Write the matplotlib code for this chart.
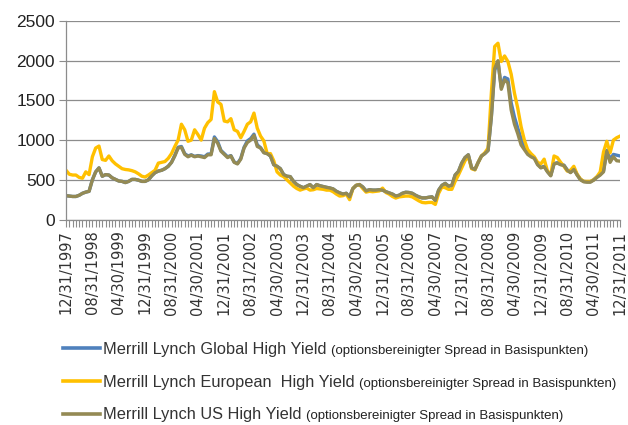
import numpy as np
import pandas as pd
import matplotlib
matplotlib.use('Agg')
import matplotlib.pyplot as plt
from matplotlib.font_manager import FontProperties

dates = pd.date_range('1997-12-31', periods=169, freq='ME')
date_labels = [d.strftime('%m/%d/%Y') for d in dates]

us_hy = [300, 295, 290, 290, 305, 330, 345, 355, 500, 600, 650, 545, 565, 560, 525, 505, 485, 480, 465, 480,
         505, 505, 495, 480, 480, 500, 550, 590, 610, 620, 640, 670, 720, 800, 900, 910, 820, 790, 810, 790,
         800, 790, 780, 815, 815, 1020, 960, 860, 820, 780, 800, 720, 700, 760, 900, 970, 1000, 1060, 920, 900,
         840, 830, 800, 690, 670, 640, 565, 545, 540, 480, 440, 418, 400, 420, 440, 400, 440, 425, 415, 405,
         397, 385, 355, 335, 320, 330, 285, 390, 430, 440, 410, 360, 375, 370, 370, 375, 370, 350, 335, 320,
         295, 305, 330, 343, 340, 330, 305, 285, 272, 272, 280, 285, 240, 370, 430, 455, 420, 430, 560, 605,
         710, 780, 815, 650, 630, 720, 800, 830, 870, 1300, 1900, 2000, 1640, 1760, 1720, 1380, 1200, 1080, 940, 880,
         820, 790, 770, 690, 650, 665, 600, 550, 700, 710, 690, 680, 620, 590, 630, 560, 500, 475, 470, 470,
         495, 530, 560, 600, 860, 720, 790, 740, 735]

european_hy = [620, 570, 560, 560, 530, 520, 600, 565, 790, 900, 925, 755, 745, 800, 740, 700, 670, 640, 630, 625,
               615, 600, 575, 545, 535, 560, 590, 620, 710, 720, 730, 770, 830, 920, 1000, 1200, 1130, 985, 1000, 1130,
               1070, 1000, 1150, 1220, 1260, 1610, 1480, 1450, 1240, 1230, 1270, 1130, 1110, 1030, 1110, 1200, 1230, 1340, 1150, 1050,
               990, 830, 830, 740, 600, 560, 540, 500, 460, 420, 390, 370, 385, 395, 370, 375, 390, 385, 380, 370,
               370, 350, 320, 295, 300, 320, 250, 390, 430, 440, 390, 345, 355, 350, 355, 360, 395, 340, 320, 290,
               270, 285, 290, 295, 295, 285, 260, 235, 215, 210, 215, 215, 190, 330, 410, 400, 380, 380, 480, 560,
               650, 740, 795, 640, 625, 720, 800, 840, 900, 1600, 2180, 2220, 1990, 2060, 1990, 1830, 1590, 1400, 1170, 1000,
               880, 830, 790, 720, 700, 760, 610, 565, 800, 780, 720, 670, 610, 620, 670, 570, 510, 480, 480, 480,
               500, 540, 600, 850, 985, 840, 1000, 1030, 1050]

global_hy = [300, 295, 290, 290, 305, 330, 345, 355, 500, 600, 650, 545, 565, 560, 525, 505, 485, 480, 465, 480,
             505, 505, 495, 480, 480, 500, 550, 590, 610, 620, 640, 670, 720, 810, 910, 920, 830, 800, 815, 795,
             805, 800, 790, 825, 825, 1040, 980, 870, 830, 790, 805, 725, 705, 770, 910, 990, 1020, 1075, 940, 905,
             845, 830, 800, 690, 670, 640, 565, 545, 540, 480, 440, 418, 400, 420, 440, 400, 440, 425, 415, 405,
             397, 385, 355, 335, 320, 330, 285, 390, 430, 440, 410, 360, 375, 370, 370, 375, 370, 350, 335, 320,
             295, 305, 330, 343, 340, 330, 305, 285, 272, 272, 280, 285, 240, 370, 430, 455, 420, 430, 560, 605,
             710, 780, 815, 650, 630, 720, 800, 830, 870, 1300, 1880, 1990, 1660, 1790, 1770, 1470, 1290, 1150, 1020, 930,
             850, 810, 780, 700, 655, 670, 605, 555, 705, 715, 695, 685, 625, 595, 635, 565, 505, 480, 475, 475,
             500, 535, 565, 610, 870, 760, 820, 810, 800]

series_names = ['Merrill Lynch Global High Yield',
                'Merrill Lynch European  High Yield',
                'Merrill Lynch US High Yield']
note = '(optionsbereinigter Spread in Basispunkten)'
colors = ['#4F81BD', '#FFC000', '#948A54']

W, H = 628, 425
fig = plt.figure(figsize=(W / 100, H / 100), dpi=100)
ax = fig.add_axes([66 / W, 1 - 219.5 / H, (620 - 66) / W, (219.5 - 21) / H])
x = np.arange(len(dates))
handles = []
for vals, c, name in zip([global_hy, european_hy, us_hy], colors, series_names):
    h, = ax.plot(x, vals, color=c, lw=2.4, label=name, solid_joinstyle='round')
    handles.append(h)

grid_c = '#8C8C8C'
ax.set_xlim(0, 168)
ax.set_ylim(0, 2500)
ax.set_yticks(range(0, 2501, 500))
ax.yaxis.grid(True, color=grid_c, lw=0.9)
ax.set_axisbelow(True)
ax.set_xticks(x[::8])
ax.set_xticklabels(date_labels[::8], rotation=90, fontsize=10.5, family='DejaVu Sans', color='#333333')
ax.set_xticks(x, minor=True)
ax.tick_params(axis='x', which='both', length=5, width=0.8, color=grid_c, direction='out', pad=3)
ax.tick_params(axis='y', length=5, width=0.8, color=grid_c, pad=3)
for lab in ax.get_yticklabels():
    lab.set_fontsize(12.5)
    lab.set_family('Liberation Sans')
    lab.set_color('#222222')
for s in ['top', 'right']:
    ax.spines[s].set_visible(False)
for s in ['left', 'bottom']:
    ax.spines[s].set_color(grid_c)
    ax.spines[s].set_linewidth(0.9)

leg_fs = 11.8
leg = fig.legend(handles, series_names, loc='upper left', bbox_to_anchor=(63 / W, 1 - 342 / H),
                 frameon=False, handlelength=2.25, handletextpad=0.2,
                 labelspacing=1.08, borderaxespad=0, borderpad=0,
                 prop={'family': 'Liberation Sans', 'size': leg_fs})
for lh in leg.get_lines():
    lh.set_linewidth(2.6)
for t in leg.get_texts():
    t.set_color('#333333')

fig.canvas.draw()
renderer = fig.canvas.get_renderer()
fp_main = FontProperties(family='Liberation Sans', size=leg_fs)
_, _, d_main = renderer.get_text_width_height_descent('lp', fp_main, ismath=False)
for t in leg.get_texts():
    bb = t.get_window_extent(renderer)
    baseline = bb.y0 + d_main
    fig.text((bb.x1 + 4) / W, baseline / H, note, fontsize=9.5,
             family=['Liberation Sans Narrow', 'Liberation Sans'], color='#222222',
             va='baseline', ha='left')

fig.savefig('out.png', dpi=100)
